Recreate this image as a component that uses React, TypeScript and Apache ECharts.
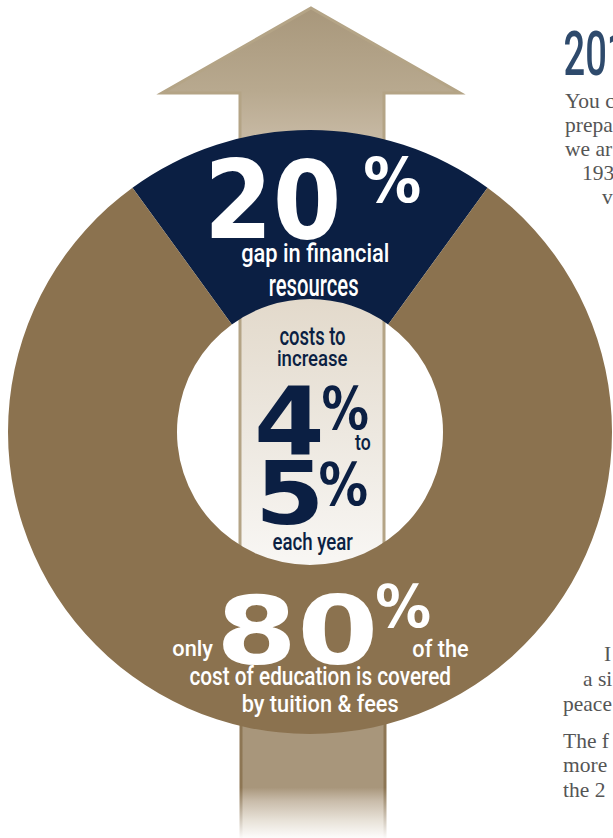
import React, { useEffect, useRef } from 'react';
import * as echarts from 'echarts';

// ---- data ----
const categories = ['gap in financial resources', 'cost of education covered by tuition & fees'];
const shares = [20, 80];
const costIncrease = [4, 5];
const sliceColors = ['#0b1f43', '#8b724f'];

const NUM_FONT = "'DejaVu Sans', sans-serif";
const COND_FONT = "Roboto, 'Liberation Sans Narrow', sans-serif";
const SERIF_FONT = "'Liberation Serif', serif";
const NAVY = '#0b1f43';
const WHITE = '#ffffff';

let measureCtx: CanvasRenderingContext2D | null = null;
function getCtx() {
  if (!measureCtx) measureCtx = document.createElement('canvas').getContext('2d');
  return measureCtx!;
}

// fit a text's ink into a box [left, top, right, bottom]
function fitText(
  text: string,
  family: string,
  weight: string | number,
  box: number[],
  fill: string,
  measureText?: string
) {
  const [l, t, r, b] = box;
  const ctx = getCtx();
  ctx.font = `${weight} 100px ${family}`;
  ctx.textBaseline = 'middle';
  ctx.textAlign = 'left';
  const mFull = ctx.measureText(text);
  const m = measureText ? ctx.measureText(measureText) : mFull;
  const inkH = mFull.actualBoundingBoxAscent + mFull.actualBoundingBoxDescent;
  const size = ((b - t) / inkH) * 100;
  const k = size / 100;
  const inkW = (m.actualBoundingBoxLeft + m.actualBoundingBoxRight) * k;
  const scaleX = (r - l) / inkW;
  const inkCy = ((mFull.actualBoundingBoxDescent - mFull.actualBoundingBoxAscent) / 2) * k;
  return {
    type: 'text',
    x: l + m.actualBoundingBoxLeft * k * scaleX,
    y: (t + b) / 2 - inkCy,
    scaleX,
    z: 20,
    silent: true,
    style: {
      text,
      font: `${weight} ${size.toFixed(2)}px ${family}`,
      fill,
      align: 'left',
      verticalAlign: 'middle',
    },
  };
}

function serifLine(text: string, x: number, y: number) {
  return {
    type: 'text',
    x,
    y,
    z: 20,
    silent: true,
    style: { text, font: `21.5px ${SERIF_FONT}`, fill: '#555555', align: 'left', verticalAlign: 'middle' },
  };
}

function buildGraphics() {
  const lg = echarts.graphic.LinearGradient;
  const arrowTop = {
    type: 'polygon',
    z: 0,
    silent: true,
    shape: {
      points: [
        [311, 8],
        [460, 93],
        [384, 93],
        [384, 600],
        [240, 600],
        [240, 93],
        [162, 93],
      ],
    },
    style: {
      fill: new lg(0, 0, 0, 1, [
        { offset: 0, color: '#a8977b' },
        { offset: 0.14, color: '#b8a98f' },
        { offset: 0.21, color: '#c5b7a1' },
        { offset: 0.5, color: '#e3dacc' },
        { offset: 0.72, color: '#ede8e0' },
        { offset: 0.93, color: '#f8f6f3' },
        { offset: 1, color: '#fbfaf8' },
      ]),
      stroke: '#b4a486',
      lineWidth: 3,
      lineJoin: 'miter',
    },
  };
  const shaftBottom = {
    type: 'rect',
    z: 0,
    silent: true,
    shape: { x: 241, y: 690, width: 144, height: 150 },
    style: {
      fill: new lg(0, 0, 0, 1, [
        { offset: 0, color: '#a8967b' },
        { offset: 0.65, color: '#a8967b' },
        { offset: 0.74, color: '#c9bcaa' },
        { offset: 0.87, color: '#e8e2d8' },
        { offset: 1, color: '#ffffff' },
      ]),
      stroke: new lg(0, 0, 0, 1, [
        { offset: 0, color: '#8d7654' },
        { offset: 0.65, color: '#8d7654' },
        { offset: 1, color: '#ffffff' },
      ]),
      lineWidth: 3,
    },
  };

  const texts: any[] = [
    // navy slice
    fitText(`${shares[0]}`, NUM_FONT, 'bold', [211, 147, 337, 230], WHITE),
    fitText('%', NUM_FONT, 'bold', [365, 150, 420, 197], WHITE),
    fitText('gap in financial', COND_FONT, 500, [242, 240, 388, 265], WHITE),
    fitText('resources', COND_FONT, 500, [270, 276, 358, 293], WHITE),
    // hole
    fitText('costs to', COND_FONT, 500, [280, 325, 345, 342], NAVY),
    fitText('increase', COND_FONT, 500, [278, 348, 347, 364], NAVY),
    fitText(`${costIncrease[0]}`, NUM_FONT, 'bold', [258, 378, 320, 448], NAVY),
    fitText('%', NUM_FONT, 'bold', [323, 380, 368, 425], NAVY),
    fitText('to', COND_FONT, 500, [355, 433, 370, 448], NAVY),
    fitText(`${costIncrease[1]}`, NUM_FONT, 'bold', [262, 453, 318, 517], NAVY),
    fitText('%', NUM_FONT, 'bold', [320, 455, 367, 500], NAVY),
    fitText('each year', COND_FONT, 500, [273, 530, 353, 553], NAVY),
    // brown slice
    fitText(`${shares[1]}`, NUM_FONT, 'bold', [223, 585, 373, 657], WHITE),
    fitText('%', NUM_FONT, 'bold', [377, 578, 430, 623], WHITE),
    fitText('only', COND_FONT, 500, [173, 637, 213, 658], WHITE),
    fitText('of the', COND_FONT, 500, [413, 637, 468, 655], WHITE),
    fitText('cost of education is covered', COND_FONT, 500, [190, 663, 450, 683], WHITE),
    fitText('by tuition & fees', COND_FONT, 500, [243, 692, 398, 715], WHITE),
    // right-hand page text (cut off at the edge, as in the reference)
    fitText('201', COND_FONT, 500, [565, 25, 605, 70], '#2e4a6c', '20'),
    serifLine('You c', 565, 101),
    serifLine('prepa', 565, 125),
    serifLine('we ar', 565, 149),
    serifLine('193', 582, 173),
    serifLine('v', 602, 197),
    serifLine('I', 604, 654),
    serifLine('a si', 583, 679),
    serifLine('peace', 563, 704),
    serifLine('The f', 563, 741),
    serifLine('more', 563, 765),
    serifLine('the 2', 563, 790),
  ];
  return [arrowTop, shaftBottom, ...texts];
}

export default function App() {
  const ref = useRef<HTMLDivElement>(null);
  useEffect(() => {
    if (!ref.current) return;
    const chart = echarts.init(ref.current, undefined, { renderer: 'svg' });
    const total = shares.reduce((a, b) => a + b, 0);
    chart.setOption({
      animation: false,
      backgroundColor: '#ffffff',
      graphic: { elements: buildGraphics() },
      series: [
        {
          type: 'pie',
          z: 2,
          silent: true,
          center: [310, 432],
          radius: [133, 302],
          startAngle: 90 + (shares[0] / total) * 180,
          clockwise: true,
          label: { show: false },
          labelLine: { show: false },
          emphasis: { disabled: true },
          data: categories.map((name, i) => ({
            name,
            value: shares[i],
            itemStyle: { color: sliceColors[i] },
          })),
        },
      ],
    });
    return () => chart.dispose();
  }, []);
  return (
    <div
      ref={ref}
      style={{ position: 'absolute', left: 0, top: 0, width: 613, height: 838 }}
    />
  );
}
